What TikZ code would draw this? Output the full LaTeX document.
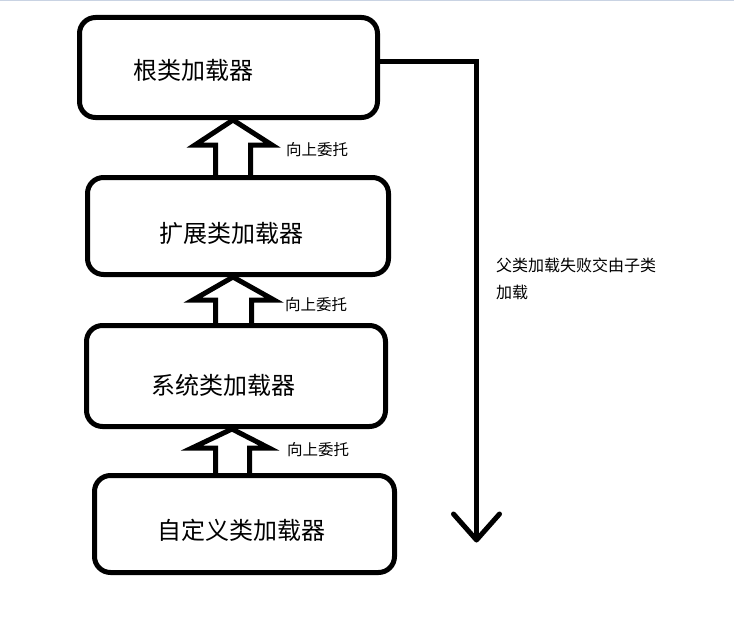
\documentclass[tikz,border=0pt]{standalone}
\usepackage{fontspec}
\setmainfont{Noto Sans CJK SC}
\definecolor{topline}{RGB}{201,211,227}
\begin{document}
\begin{tikzpicture}[x=1pt,y=-1pt,line join=round,line cap=round,
	loader/.style={draw,line width=5pt,rounded corners=16pt,inner sep=0pt},
	loadertext/.style={font=\fontsize{24}{24}\selectfont,inner sep=0pt},
	delegate/.style={draw,line width=5pt,line join=miter},
	note/.style={font=\fontsize{15.5}{15.5}\selectfont,inner sep=0pt,anchor=west}]
	\useasboundingbox (0,0) rectangle (734,618);
	\fill[topline] (0,0) rectangle (734,1.5);
	\node[loader,minimum width=298pt,minimum height=100pt] (root) at (228.5,67.5) {};
	\node[loader,minimum width=301pt,minimum height=97pt] (ext) at (238,226) {};
	\node[loader,minimum width=299pt,minimum height=101pt] (sys) at (236,376) {};
	\node[loader,minimum width=300pt,minimum height=97pt] (custom) at (244.5,524) {};
	\node[loadertext] (rootT) at (193,70) {根类加载器};
	\node[loadertext] (extT) at (231,233) {扩展类加载器};
	\node[loadertext] (sysT) at (223.5,385) {系统类加载器};
	\node[loadertext] (customT) at (241.5,530) {自定义类加载器};
	\draw[delegate] (215.5,0 |- ext.north) -- (215.5,145) -- (195,145) -- (233,0 |- root.south) -- (272,145) -- (250.5,145) -- (250.5,0 |- ext.north);
	\draw[delegate] (215.5,0 |- sys.north) -- (215.5,300) -- (193,300) -- (233,0 |- ext.south) -- (274,300) -- (251.5,300) -- (251.5,0 |- sys.north);
	\draw[delegate] (215.5,0 |- custom.north) -- (215.5,448) -- (192,448) -- (232,0 |- sys.south) -- (269,448) -- (249.5,448) -- (249.5,0 |- custom.north);
	\node[note] (up1) at (286,150) {向上委托};
	\node[note] (up2) at (285,305) {向上委托};
	\node[note] (up3) at (287,450) {向上委托};
	\coordinate (down) at (476.5,540);
	\draw[line width=5pt,line join=miter,line cap=butt] ([yshift=5.5pt]root.east) -| (down);
	\draw[line width=5pt] ([shift={(-23,-26)}]down) -- (down) -- ([shift={(23,-26)}]down);
	\node[note,font=\fontsize{16}{27}\selectfont,align=left] (fail) at (496,278.5) {父类加载失败交由子类\\加载};
\end{tikzpicture}
\end{document}
